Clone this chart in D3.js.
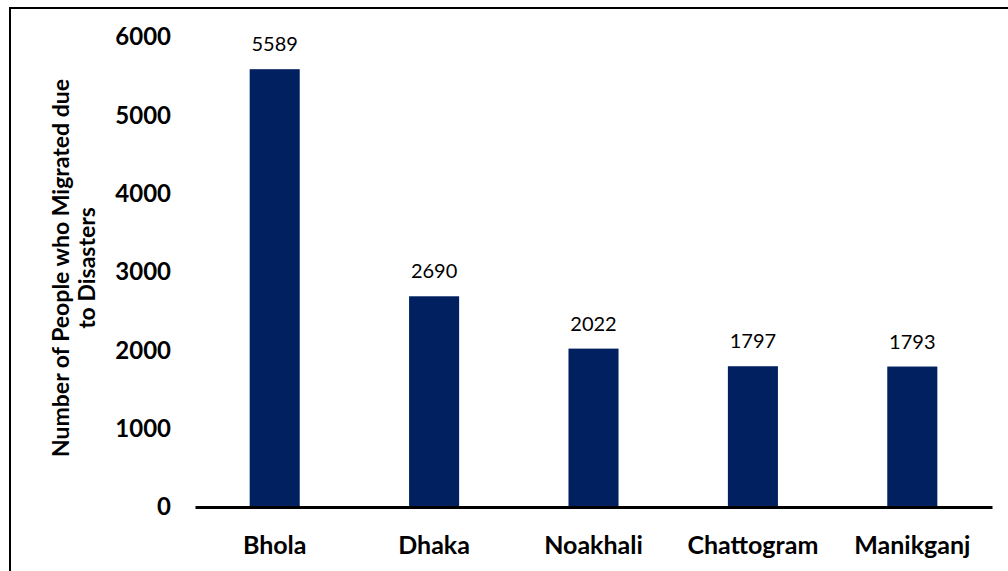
<!DOCTYPE html>
<html>
<head>
<meta charset="utf-8">
<script src="https://cdn.jsdelivr.net/npm/d3@7/dist/d3.min.js"></script>
<style>
  html, body { margin: 0; padding: 0; background: #fff; }
  svg { display: block; }
  text { font-family: Lato, "Open Sans", sans-serif; }
</style>
</head>
<body>
<svg id="chart" width="1008" height="571"></svg>
<script>
// Districts and number of people who migrated due to disasters
const districts = ["Bhola", "Dhaka", "Noakhali", "Chattogram", "Manikganj"];
const migrants = [5589, 2690, 2022, 1797, 1793];
const yTicks = [0, 1000, 2000, 3000, 4000, 5000, 6000];

const svg = d3.select("#chart");
const W = 1008, H = 571;
const plot = { left: 195, right: 992, top: 37, bottom: 507 };

// Frame lines along the top and left edges
svg.append("line").attr("x1", 10).attr("x2", W).attr("y1", 8).attr("y2", 8)
  .attr("stroke", "#000").attr("stroke-width", 2);
svg.append("line").attr("x1", 10).attr("x2", 10).attr("y1", 7).attr("y2", H)
  .attr("stroke", "#000").attr("stroke-width", 2);

const x = d3.scaleBand().domain(districts).range([plot.left, plot.right]).paddingInner(0.686).paddingOuter(0.343);
const y = d3.scaleLinear().domain([0, 6000]).range([plot.bottom, plot.top]);

// Bars
svg.append("g").selectAll("rect").data(districts).join("rect")
  .attr("x", d => x(d))
  .attr("width", x.bandwidth())
  .attr("y", (d, i) => y(migrants[i]))
  .attr("height", (d, i) => y(0) - y(migrants[i]))
  .attr("fill", "#002060");

// Value labels
svg.append("g").selectAll("text").data(districts).join("text")
  .attr("x", d => x(d) + x.bandwidth() / 2)
  .attr("y", (d, i) => y(migrants[i]) - 18)
  .attr("text-anchor", "middle")
  .attr("font-size", 20)
  .attr("fill", "#000")
  .text((d, i) => migrants[i]);

// Y axis (labels only)
const yAxis = d3.axisLeft(y).tickValues(yTicks).tickSize(0).tickPadding(0).tickFormat(d3.format("d"));
const gy = svg.append("g").attr("transform", `translate(171,0)`).call(yAxis);
gy.select(".domain").remove();
gy.selectAll("text").attr("font-size", 24).attr("font-weight", "bold").attr("fill", "#000")
  .style("font-family", "Lato, 'Open Sans', sans-serif");

// X axis baseline and category labels
const xAxis = d3.axisBottom(x).tickSize(0).tickPadding(0);
const gx = svg.append("g").attr("transform", `translate(0,${plot.bottom})`).call(xAxis);
gx.select(".domain").attr("stroke", "#000").attr("stroke-width", 3);
gx.selectAll("text").attr("font-size", 25).attr("font-weight", "bold").attr("fill", "#000")
  .attr("dy", null).attr("y", 47)
  .style("font-family", "Lato, 'Open Sans', sans-serif");

// Y axis title
const title = svg.append("text")
  .attr("transform", "translate(0,268) rotate(-90)")
  .attr("text-anchor", "middle")
  .attr("font-size", 23)
  .attr("font-weight", "bold")
  .attr("fill", "#000");
title.append("tspan").attr("x", 0).attr("y", 69).text("Number of People who Migrated due");
title.append("tspan").attr("x", 0).attr("y", 95).text("to Disasters");
</script>
</body>
</html>
